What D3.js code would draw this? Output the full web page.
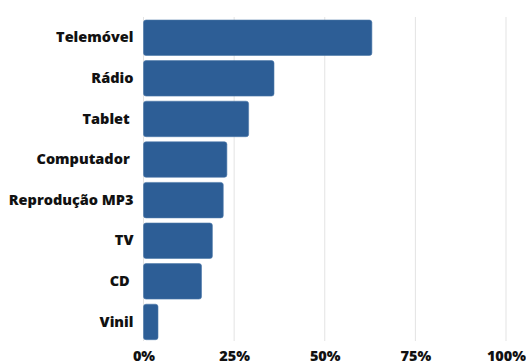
<!DOCTYPE html>
<html>
<head>
<meta charset="utf-8">
<script src="https://cdn.jsdelivr.net/npm/d3@7/dist/d3.min.js"></script>
<style>
  html, body { margin: 0; padding: 0; background: #ffffff; overflow: hidden; }
  svg { display: block; }
</style>
</head>
<body>
<svg id="chart" width="526" height="361"></svg>
<script>
// Device categories and share of respondents (%)
const categories = ["Telemóvel", "Rádio", "Tablet ", "Computador ", "Reprodução MP3", "TV", "CD ", "Vinil"];
const values = [63, 36, 29, 23, 22, 19, 16, 4];
const tickValues = [0, 25, 50, 75, 100];
const tickLabels = ["0%", "25%", "50%", "75%", "100%"];

const svg = d3.select("#chart");
const labelFont = "'Open Sans', 'Noto Sans', sans-serif";

const x = d3.scaleLinear().domain([0, 100]).range([143.5, 506]);
const y = d3.scaleBand().domain(categories).range([20, 339.7])
  .paddingInner(0.126).paddingOuter(0);

// Vertical grid lines
svg.append("g")
  .selectAll("line")
  .data(tickValues)
  .join("line")
  .attr("x1", d => x(d)).attr("x2", d => x(d))
  .attr("y1", 17).attr("y2", 341)
  .attr("stroke", "#e3e3e3")
  .attr("stroke-width", 1);

// Bars
svg.append("g")
  .selectAll("rect")
  .data(values)
  .join("rect")
  .attr("x", x(0))
  .attr("y", (d, i) => y(categories[i]))
  .attr("width", d => x(d) - x(0))
  .attr("height", y.bandwidth())
  .attr("rx", 2.5)
  .attr("fill", "#2d5e96")
  .attr("stroke", "#4d78aa")
  .attr("stroke-width", 0.6);

// Category labels
const yAxis = d3.axisLeft(y).tickSize(0).tickPadding(10);
const gy = svg.append("g").attr("transform", `translate(${x(0)},0)`).call(yAxis);
gy.select(".domain").remove();
gy.selectAll("text")
  .attr("font-size", 14.5)
  .attr("font-family", labelFont)
  .attr("font-weight", 800)
  .attr("fill", "#111")
  .style("white-space", "pre");

// Percentage axis labels
const xAxis = d3.axisBottom(x).tickValues(tickValues)
  .tickFormat((d, i) => tickLabels[i]).tickSize(0).tickPadding(0);
const gx = svg.append("g").attr("transform", "translate(0,351)").call(xAxis);
gx.select(".domain").remove();
gx.selectAll("text")
  .attr("dy", "0.71em")
  .attr("font-size", 14.5)
  .attr("font-family", labelFont)
  .attr("font-weight", 800)
  .attr("fill", "#111");
</script>
</body>
</html>
